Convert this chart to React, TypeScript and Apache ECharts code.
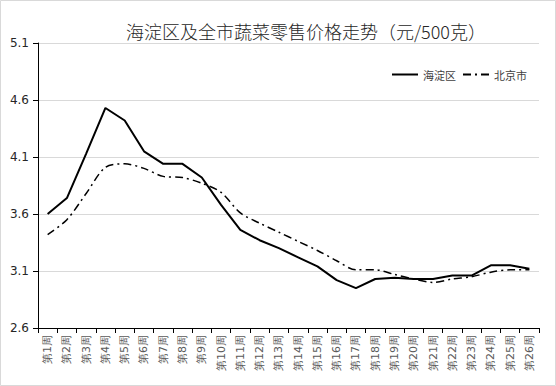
import React, { useEffect, useRef } from "react";
import * as echarts from "echarts";

const weeks = [
  "第1周", "第2周", "第3周", "第4周", "第5周", "第6周", "第7周", "第8周", "第9周",
  "第10周", "第11周", "第12周", "第13周", "第14周", "第15周", "第16周", "第17周",
  "第18周", "第19周", "第20周", "第21周", "第22周", "第23周", "第24周", "第25周", "第26周",
];
const haidian = [
  3.6, 3.74, 4.13, 4.53, 4.42, 4.15, 4.04, 4.04, 3.92, 3.68, 3.46, 3.37, 3.3,
  3.22, 3.14, 3.02, 2.95, 3.03, 3.04, 3.03, 3.03, 3.06, 3.06, 3.15, 3.15, 3.12,
];
const beijing = [
  3.42, 3.55, 3.78, 4.01, 4.04, 4.0, 3.93, 3.92, 3.87, 3.79, 3.61, 3.52, 3.44,
  3.36, 3.28, 3.19, 3.11, 3.11, 3.07, 3.03, 3.0, 3.03, 3.05, 3.09, 3.11, 3.11,
];
const seriesNames = ["海淀区", "北京市"];
const titleText = "海淀区及全市蔬菜零售价格走势（元/500克）";

export default function App() {
  const ref = useRef<HTMLDivElement>(null);
  useEffect(() => {
    if (!ref.current) return;
    const chart = echarts.init(ref.current, undefined, { renderer: "svg" });
    chart.setOption({
      animation: false,
      backgroundColor: "#ffffff",
      title: {
        text: titleText,
        left: 121,
        top: 17,
        textStyle: {
          fontFamily: "Noto Sans CJK SC",
          fontSize: 18,
          fontWeight: 300,
          color: "#262626",
        },
      },
      legend: {
        left: 386,
        top: 64,
        itemWidth: 26,
        itemHeight: 10,
        itemGap: 6,
        itemStyle: { opacity: 0 },
        textStyle: { fontFamily: "Noto Sans CJK SC", fontSize: 11, color: "#404040" },
        data: seriesNames,
      },
      graphic: [
        {
          type: "rect",
          shape: { x: 0.5, y: 0.5, width: 555, height: 385 },
          style: { fill: "none", stroke: "#d9d9d9", lineWidth: 1 },
          silent: true,
        },
      ],
      grid: { left: 38, right: 17, top: 43, bottom: 58, containLabel: false },
      xAxis: {
        type: "category",
        data: weeks,
        boundaryGap: true,
        axisLine: { lineStyle: { color: "#000", width: 1 } },
        axisTick: { show: true, length: 5, alignWithLabel: false, lineStyle: { color: "#000" } },
        axisLabel: {
          rotate: 90,
          interval: 0,
          margin: 7,
          fontFamily: "DejaVu Sans",
          fontSize: 11,
          color: "#595959",
        },
      },
      yAxis: {
        type: "value",
        min: 2.6,
        max: 5.1,
        interval: 0.5,
        axisLine: { show: true, lineStyle: { color: "#000", width: 1 } },
        axisTick: { show: true, length: 5, lineStyle: { color: "#000" } },
        splitLine: { lineStyle: { color: "#d9d9d9", width: 1 } },
        axisLabel: {
          margin: 9,
          fontFamily: "DejaVu Sans",
          fontSize: 12,
          color: "#262626",
          formatter: (v: number) => v.toFixed(1),
        },
      },
      series: [
        {
          name: seriesNames[0],
          type: "line",
          data: haidian,
          symbol: "none",
          lineStyle: { color: "#000", width: 2, type: "solid" },
          itemStyle: { color: "#000" },
        },
        {
          name: seriesNames[1],
          type: "line",
          data: beijing,
          symbol: "none",
          smooth: 0.3,
          lineStyle: { color: "#000", width: 1.5, type: [8, 4, 2, 4] },
          itemStyle: { color: "#000" },
        },
      ],
    });
    return () => chart.dispose();
  }, []);
  return <div ref={ref} style={{ position: "fixed", left: 0, top: 0, width: 556, height: 386 }} />;
}
